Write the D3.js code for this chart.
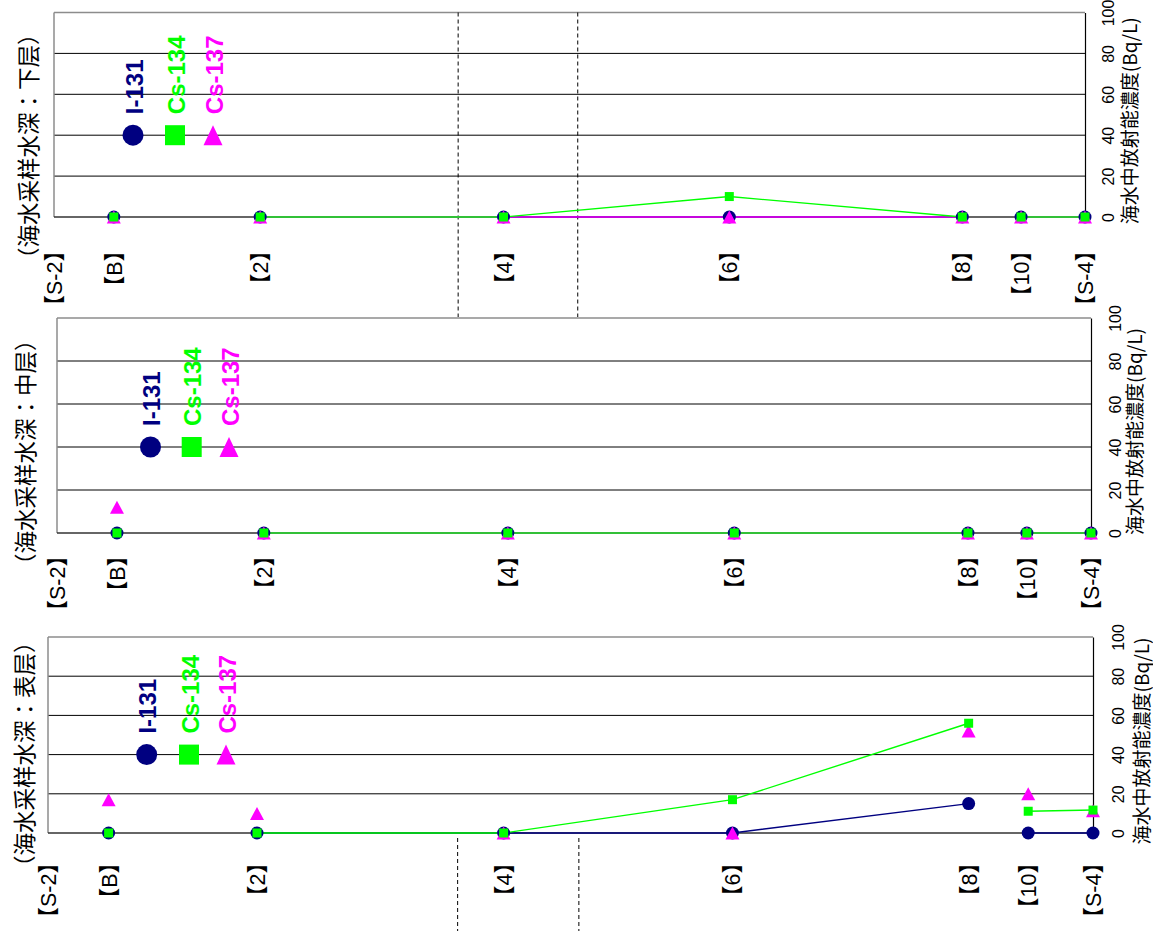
<!DOCTYPE html>
<html><head><meta charset="utf-8">
<script src="https://cdn.jsdelivr.net/npm/d3@7"></script>
<style>
html,body{margin:0;padding:0;background:#fff;}
svg{display:block;}
</style></head>
<body>
<svg id="chart" width="1153" height="931"></svg>
<script>
// ---------- data ----------
const categories = ["【S-2】","【B】","【2】","【4】","【6】","【8】","【10】","【S-4】"];
const positions  = [0, 5.8, 20, 43.6, 65.5, 88.1, 93.8, 100];   // relative location along the section
const seriesNames = ["I-131","Cs-134","Cs-137"];
const yTicks = [0,20,40,60,80,100];
const axisTitle = "海水中放射能濃度(Bq/L)";
const panelTitles = ["（海水采样水深：下层）","（海水采样水深：中层）","（海水采样水深：表层）"];
const dashedAt = [39.2, 50.8];
const lineGroups = [[2,3,4,5],[6,7]];   // indices of points joined by lines

// 下层
const lowerI131  = [null,0,0,0,0,0,0,0];
const lowerCs134 = [null,0,0,0,10,0,0,0];
const lowerCs137 = [null,0,0,0,0,0,0,0];
// 中层
const middleI131  = [null,0,0,0,0,0,0,0];
const middleCs134 = [null,0,0,0,0,0,0,0];
const middleCs137 = [null,12,0,0,0,0,0,0];
// 表层
const surfaceI131  = [null,0,0,0,0,15,0,0];
const surfaceCs134 = [null,0,0,0,17,56,11.1,11.7];
const surfaceCs137 = [null,17,10,0,0,52,20,11.4];

// ---------- layout ----------
const colors = {"I-131":"#000080","Cs-134":"#00ff00","Cs-137":"#ff00ff"};
const panels = [
  {title:panelTitles[0], data:{"I-131":lowerI131,"Cs-134":lowerCs134,"Cs-137":lowerCs137},
   x0:54, x1:1085, y0:217, y100:12.5, lineSeries:["I-131","Cs-137","Cs-134"],
   legendX:[133,175,213], catOff:33, titleX:27, titleY:262, tickOff:23, atOff:43,
   dash:[12.5,317]},
  {title:panelTitles[1], data:{"I-131":middleI131,"Cs-134":middleCs134,"Cs-137":middleCs137},
   x0:57, x1:1091, y0:533, y100:318, lineSeries:["I-131","Cs-137","Cs-134"],
   legendX:[150.5,191.7,229], catOff:22, titleX:24, titleY:568, tickOff:24, atOff:42,
   dash:null},
  {title:panelTitles[2], data:{"I-131":surfaceI131,"Cs-134":surfaceCs134,"Cs-137":surfaceCs137},
   x0:48, x1:1093, y0:833, y100:637, lineSeries:["I-131","Cs-134"],
   legendX:[146.7,189,226], catOff:29, titleX:23, titleY:870, tickOff:25, atOff:47,
   dash:[838,931]}
];

const svg = d3.select("#chart");
const latin = "'Liberation Sans', 'Noto Sans CJK JP', Arial, sans-serif";
const cjk = "'Noto Sans CJK JP','Noto Sans CJK SC', sans-serif";

function tri(x,y,w,h){
  return `M${x},${y-h/2}L${x+w/2},${y+h/2}L${x-w/2},${y+h/2}Z`;
}

panels.forEach(p => {
  const g = svg.append("g");
  const x = d3.scaleLinear().domain([0,100]).range([p.x0,p.x1]);
  const y = d3.scaleLinear().domain([0,100]).range([p.y0,p.y100]);

  // grid lines
  g.selectAll("line.grid").data(yTicks.filter(t=>t>0 && t<100)).enter().append("line")
    .attr("x1",p.x0).attr("x2",p.x1).attr("y1",d=>y(d)).attr("y2",d=>y(d))
    .attr("stroke","#000").attr("stroke-width",1);
  // frame top & left (gray)
  g.append("line").attr("x1",p.x0).attr("x2",p.x1).attr("y1",y(100)).attr("y2",y(100))
    .attr("stroke","#8c8c8c").attr("stroke-width",1.5);
  g.append("line").attr("x1",p.x0).attr("x2",p.x0).attr("y1",y(100)).attr("y2",y(0))
    .attr("stroke","#8c8c8c").attr("stroke-width",1.5);
  // zero line
  g.append("line").attr("x1",p.x0).attr("x2",p.x1).attr("y1",y(0)).attr("y2",y(0))
    .attr("stroke","#333").attr("stroke-width",1.5);

  // dashed lines
  if (p.dash) {
    g.selectAll("line.dash").data(dashedAt).enter().append("line")
      .attr("x1",d=>x(d)).attr("x2",d=>x(d)).attr("y1",p.dash[0]).attr("y2",p.dash[1])
      .attr("stroke","#000").attr("stroke-width",1).attr("stroke-dasharray","4,3");
  }

  // right axis
  const ax = g.append("g").attr("transform",`translate(${p.x1},0)`)
    .call(d3.axisRight(y).tickValues(yTicks).tickSize(0).tickPadding(0));
  ax.select(".domain").attr("stroke","#000").attr("stroke-width",1.2);
  ax.selectAll(".tick text")
    .attr("x",0).attr("dy",null)
    .attr("transform",`translate(${p.tickOff},0) rotate(-90)`)
    .attr("text-anchor","middle").attr("dominant-baseline","central")
    .attr("font-family",latin).attr("font-size",16).attr("fill","#000");
  // axis title
  g.append("text")
    .attr("transform",`translate(${p.x1+p.atOff},${(p.y0+p.y100)/2+6}) rotate(-90)`)
    .attr("text-anchor","middle").attr("dominant-baseline","central")
    .attr("font-family",cjk).attr("font-size",19).attr("fill","#000")
    .text(axisTitle);

  // panel title
  g.append("text")
    .attr("transform",`translate(${p.titleX},${p.titleY+8}) rotate(-90)`)
    .attr("text-anchor","start").attr("dominant-baseline","central")
    .attr("font-family",cjk).attr("font-size",22.5).attr("fill","#000")
    .text(p.title);

  // category labels
  g.selectAll("text.cat").data(categories).enter().append("text")
    .attr("transform",(d,i)=>`translate(${x(positions[i])+1},${p.y0+p.catOff-10}) rotate(-90)`)
    .attr("text-anchor","end").attr("dominant-baseline","central")
    .attr("font-family",latin).attr("font-size",21.5).attr("fill","#000")
    .text(d=>d);

  // lines
  const line = d3.line().x(d=>x(positions[d.i])).y(d=>y(d.v));
  p.lineSeries.forEach(s => {
    lineGroups.forEach(grp => {
      const pts = grp.map(i=>({i, v:p.data[s][i]})).filter(d=>d.v!=null);
      g.append("path").attr("d",line(pts)).attr("fill","none")
        .attr("stroke",colors[s]).attr("stroke-width",1.4);
    });
  });

  // markers
  const pts = s => p.data[s].map((v,i)=>({v,i})).filter(d=>d.v!=null);
  g.selectAll("circle.i131").data(pts("I-131")).enter().append("circle")
    .attr("cx",d=>x(positions[d.i])).attr("cy",d=>y(d.v)).attr("r",6.5)
    .attr("fill",colors["I-131"]);
  g.selectAll("path.cs137").data(pts("Cs-137")).enter().append("path")
    .attr("d",d=>tri(x(positions[d.i]),y(d.v),14,13)).attr("fill",colors["Cs-137"]);
  g.selectAll("rect.cs134").data(pts("Cs-134")).enter().append("rect")
    .attr("x",d=>x(positions[d.i])-4.5).attr("y",d=>y(d.v)-4.5)
    .attr("width",9).attr("height",9).attr("fill",colors["Cs-134"]);

  // legend
  const ly = y(40);
  g.append("circle").attr("cx",p.legendX[0]).attr("cy",ly).attr("r",10.5).attr("fill",colors["I-131"]);
  g.append("rect").attr("x",p.legendX[1]-10).attr("y",ly-10).attr("width",20).attr("height",20).attr("fill",colors["Cs-134"]);
  g.append("path").attr("d",tri(p.legendX[2],ly,19,20)).attr("fill",colors["Cs-137"]);
  seriesNames.forEach((s,k)=>{
    g.append("text")
      .attr("transform",`translate(${p.legendX[k]+1},${ly-21}) rotate(-90)`)
      .attr("text-anchor","start").attr("dominant-baseline","central")
      .attr("font-family",latin).attr("font-weight","bold").attr("font-size",24)
      .attr("fill",colors[s]).text(s);
  });
});
</script>
</body></html>
